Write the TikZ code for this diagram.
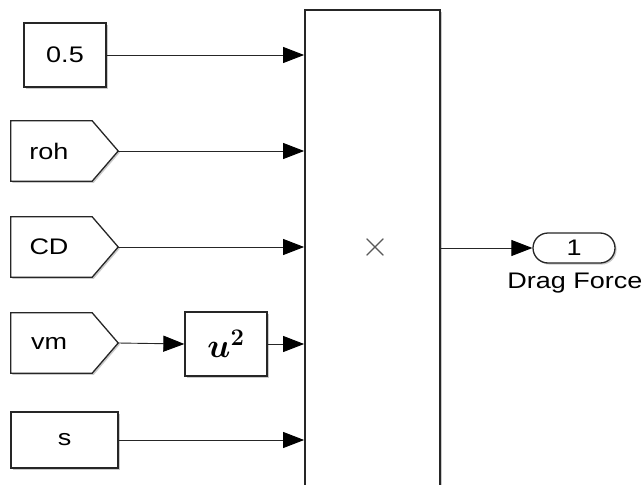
\RequirePackage{fix-cm}
\documentclass[tikz,border=0pt]{standalone}
\usepackage[no-math]{fontspec}
\setmainfont{Liberation Sans}[FakeStretch=1.2]
\usepackage{bm}
\usetikzlibrary{arrows.meta,shadows}

\tikzset{
  x=1pt, y=-1pt,
  txt/.style={font=\fontsize{22.5}{26}\selectfont},
  outline/.style={draw=black!85, line width=1.3pt, fill=white,
    drop shadow={shadow xshift=1.6pt, shadow yshift=-1.6pt, opacity=0.35, fill=black!60}},
  blk/.style={outline, inner sep=0pt, txt},
  tagbox/.style={inner sep=0pt, minimum width=107pt, minimum height=60pt},
  wire/.style={draw=black!85, line width=0.9pt,
    -{Triangle[length=21pt,width=16pt,color=black]}},
}

% "From" tag: a box whose right side ends in a point
\newcommand{\fromtag}[3]{%
  \node[tagbox] (#1) at (64.5,#2) {};
  \draw[outline] (#1.north west) -- ([xshift=-26pt]#1.north east)
    -- (#1.east) -- ([xshift=-26pt]#1.south east) -- (#1.south west) -- cycle;
  \node[txt] (#1-text) at ([xshift=-15.5pt]#1.center) {#3};
}

\begin{document}
\begin{tikzpicture}
\useasboundingbox (0,0) rectangle (644,484);

% source blocks
\node[blk, minimum width=82pt, minimum height=64pt] (half) at (65,55) {0.5};
\fromtag{roh}{151}{roh}
\fromtag{cd}{247}{CD}
\fromtag{vm}{343}{vm}
\node[blk, minimum width=107pt, minimum height=56pt] (s) at (64.5,440) {s};

% square block
\node[blk, minimum width=82pt, minimum height=64pt, font=\fontsize{34}{38}\selectfont] (sq) at (226,344) {$\bm{u}^{\bm{2}}$};

% product block
\node[blk, line width=1.8pt, minimum width=135pt, minimum height=476pt] (prod) at (372.5,248) {};
\node[font=\fontsize{36}{40}\selectfont, text=black!65] (prodsign) at ([xshift=2.5pt,yshift=1pt]prod.center) {$\times$};

% output port
\node[blk, rounded corners=15pt, minimum width=82pt, minimum height=30pt] (out) at (574,248) {1};
\node[txt, anchor=base] (outlabel) at (575,288) {Drag Force};

% signal lines
\draw[wire] (half.east) -- (half.east -| prod.west);
\draw[wire] (roh.east) -- (roh.east -| prod.west);
\draw[wire] (cd.east) -- (cd.east -| prod.west);
\draw[wire] (vm.east) -- (sq.west);
\draw[wire] (sq.east) -- (sq.east -| prod.west);
\draw[wire] (s.east) -- (s.east -| prod.west);
\draw[wire] (prod.east |- out.west) -- (out.west);
\end{tikzpicture}
\end{document}
